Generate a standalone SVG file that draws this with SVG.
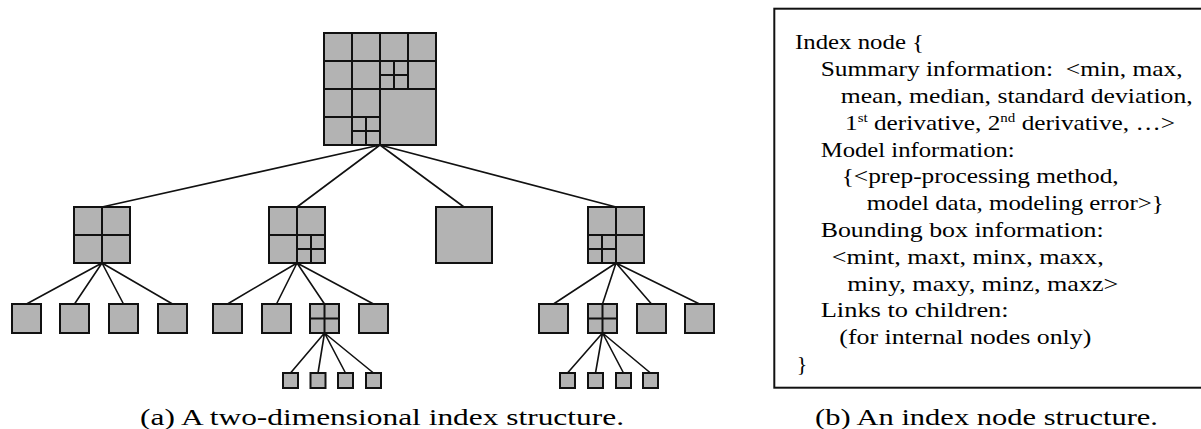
<svg xmlns="http://www.w3.org/2000/svg" width="1201" height="429" viewBox="0 0 1201 429">
<style>
.bx{fill:#b3b3b3;stroke:#111;stroke-width:2}
.gl{fill:none;stroke:#111;stroke-width:2}
.cn{stroke:#111;stroke-width:1.6;fill:none}
.t{font-family:"Liberation Serif","Times New Roman",serif;font-size:22px;fill:#000;white-space:pre}
.cap{font-family:"Liberation Serif","Times New Roman",serif;font-size:23px;fill:#000;white-space:pre}
.sup{font-size:13px}
</style>
<rect width="1201" height="429" fill="#fff"/>
<g id="connectors">
<path class="cn" d="M380 145L102 207M380 145L297 207M380 145L464 207M380 145L616 207"/>
<path class="cn" d="M102 263L26.5 304M102 263L74.5 304M102 263L123.5 304M102 263L172.5 304"/>
<path class="cn" d="M297 263L227.5 304M297 263L276.5 304M297 263L324.5 304M297 263L373.5 304"/>
<path class="cn" d="M616 263L553.5 304M616 263L602.5 304M616 263L651.5 304M616 263L699.5 304"/>
<path class="cn" d="M324.5 333L290.5 373M324.5 333L318 373M324.5 333L345.5 373M324.5 333L373.5 373"/>
<path class="cn" d="M602.5 333L567.5 373M602.5 333L595.5 373M602.5 333L623.5 373M602.5 333L650.5 373"/>
</g>
<g id="root">
<rect class="bx" x="324" y="33" width="112" height="112"/>
<path class="gl" d="M352 33V145M380 33V145M408 33V89M324 61H436M324 89H436M324 117H380M394 61V89M380 75H408M366 117V145M352 131H380"/>
</g>
<g id="n1"><rect class="bx" x="74" y="207" width="56" height="56"/><path class="gl" d="M102 207V263M74 235H130"/></g>
<g id="n2"><rect class="bx" x="269" y="207" width="56" height="56"/><path class="gl" d="M297 207V263M269 235H325M311 235V263M297 249H325"/></g>
<g id="n3"><rect class="bx" x="436" y="207" width="56" height="56"/></g>
<g id="n4"><rect class="bx" x="588" y="207" width="56" height="56"/><path class="gl" d="M616 207V263M588 235H644M602 235V263M588 249H616"/></g>
<g id="l1"><rect class="bx" x="12" y="304" width="29" height="29"/></g>
<g id="l2"><rect class="bx" x="60" y="304" width="29" height="29"/></g>
<g id="l3"><rect class="bx" x="109" y="304" width="29" height="29"/></g>
<g id="l4"><rect class="bx" x="158" y="304" width="29" height="29"/></g>
<g id="l5"><rect class="bx" x="213" y="304" width="29" height="29"/></g>
<g id="l6"><rect class="bx" x="262" y="304" width="29" height="29"/></g>
<g id="l7"><rect class="bx" x="310" y="304" width="29" height="29"/><path class="gl" d="M324.5 304V333M310 318.5H339"/></g>
<g id="l8"><rect class="bx" x="359" y="304" width="29" height="29"/></g>
<g id="l9"><rect class="bx" x="539" y="304" width="29" height="29"/></g>
<g id="l10"><rect class="bx" x="588" y="304" width="29" height="29"/><path class="gl" d="M602.5 304V333M588 318.5H617"/></g>
<g id="l11"><rect class="bx" x="637" y="304" width="29" height="29"/></g>
<g id="l12"><rect class="bx" x="685" y="304" width="29" height="29"/></g>
<g id="s1"><rect class="bx" x="283" y="373" width="15" height="15"/></g>
<g id="s2"><rect class="bx" x="310.5" y="373" width="15" height="15"/></g>
<g id="s3"><rect class="bx" x="338" y="373" width="15" height="15"/></g>
<g id="s4"><rect class="bx" x="366" y="373" width="15" height="15"/></g>
<g id="s5"><rect class="bx" x="560" y="373" width="15" height="15"/></g>
<g id="s6"><rect class="bx" x="588" y="373" width="15" height="15"/></g>
<g id="s7"><rect class="bx" x="616" y="373" width="15" height="15"/></g>
<g id="s8"><rect class="bx" x="643" y="373" width="15" height="15"/></g>
<g id="panel">
<rect x="774.3" y="8.7" width="440" height="379" fill="#fff" stroke="#111" stroke-width="2"/>
<text class="t" x="795" y="49.3" textLength="129" lengthAdjust="spacingAndGlyphs">Index node {</text>
<text class="t" x="820.7" y="76.1" textLength="362" lengthAdjust="spacingAndGlyphs">Summary information:  &lt;min, max,</text>
<text class="t" x="840.7" y="102.9" textLength="352" lengthAdjust="spacingAndGlyphs">mean, median, standard deviation,</text>
<text class="t" x="845" y="129.7" textLength="330" lengthAdjust="spacingAndGlyphs">1<tspan class="sup" dy="-8">st</tspan><tspan dy="8"> derivative, 2</tspan><tspan class="sup" dy="-8">nd</tspan><tspan dy="8"> derivative, …&gt;</tspan></text>
<text class="t" x="820.7" y="156.5" textLength="194" lengthAdjust="spacingAndGlyphs">Model information:</text>
<text class="t" x="841.7" y="183.3" textLength="277" lengthAdjust="spacingAndGlyphs">{&lt;prep-processing method,</text>
<text class="t" x="866.7" y="210.1" textLength="297" lengthAdjust="spacingAndGlyphs">model data, modeling error&gt;}</text>
<text class="t" x="820.7" y="236.9" textLength="283" lengthAdjust="spacingAndGlyphs">Bounding box information:</text>
<text class="t" x="831.7" y="263.7" textLength="272" lengthAdjust="spacingAndGlyphs">&lt;mint, maxt, minx, maxx,</text>
<text class="t" x="847.3" y="290.5" textLength="271" lengthAdjust="spacingAndGlyphs">miny, maxy, minz, maxz&gt;</text>
<text class="t" x="820.7" y="317.3" textLength="188" lengthAdjust="spacingAndGlyphs">Links to children:</text>
<text class="t" x="839.3" y="344.1" textLength="252" lengthAdjust="spacingAndGlyphs">(for internal nodes only)</text>
<text class="t" x="796.7" y="370.9">}</text>
</g>
<g id="captions">
<text class="cap" x="140" y="425" textLength="484" lengthAdjust="spacingAndGlyphs">(a) A two-dimensional index structure.</text>
<text class="cap" x="815" y="425" textLength="343" lengthAdjust="spacingAndGlyphs">(b) An index node structure.</text>
</g>
</svg>
